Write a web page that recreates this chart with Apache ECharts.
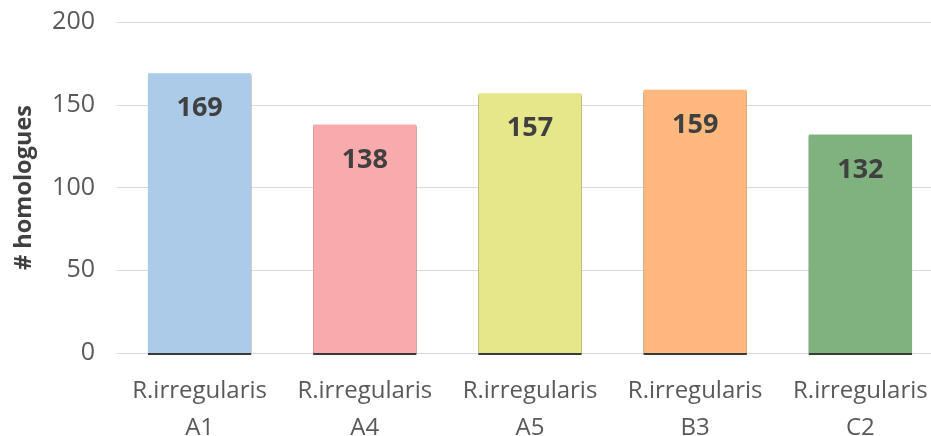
<!DOCTYPE html>
<html>
<head>
<meta charset="utf-8">
<style>
  html, body { margin: 0; padding: 0; background: #fff; }
  #chart { width: 931px; height: 436px; }
</style>
<script src="https://cdn.jsdelivr.net/npm/echarts@6/dist/echarts.min.js"></script>
</head>
<body>
<div id="chart"></div>
<script>
// Number of homologues per R. irregularis isolate
const categories = ['R.irregularis\nA1', 'R.irregularis\nA4', 'R.irregularis\nA5', 'R.irregularis\nB3', 'R.irregularis\nC2'];
const homologues = [169, 138, 157, 159, 132];
const barColors = ['#ABCBE8', '#F8AAAD', '#E6E68B', '#FFB97F', '#80B27F'];
const yTicks = { min: 0, max: 200, interval: 50 };

const font = '"Open Sans", sans-serif';
const chart = echarts.init(document.getElementById('chart'), null, { renderer: 'canvas' });

chart.setOption({
  animation: false,
  grid: {
    left: 117, top: 22, width: 826, height: 331,
    containLabel: false, outerBoundsMode: 'none'
  },
  xAxis: {
    type: 'category',
    data: categories,
    axisLine: { lineStyle: { color: '#D9D9D9', width: 1 } },
    axisTick: { show: false },
    axisLabel: {
      color: '#595959', fontFamily: font, fontSize: 24,
      lineHeight: 37, margin: 20, interval: 0
    }
  },
  yAxis: {
    type: 'value',
    min: yTicks.min, max: yTicks.max, interval: yTicks.interval,
    name: '# homologues',
    nameLocation: 'middle',
    nameGap: 81,
    nameRotate: 90,
    nameTextStyle: { color: '#404040', fontFamily: font, fontSize: 23.5, fontWeight: 'bold' },
    axisLine: { show: false },
    axisTick: { show: false },
    splitLine: { lineStyle: { color: '#D9D9D9', width: 1 } },
    axisLabel: { color: '#595959', fontFamily: font, fontSize: 25, margin: 22 }
  },
  series: [{
    type: 'bar',
    barWidth: '62.5%',
    data: homologues.map((v, i) => ({
      value: v,
      itemStyle: {
        color: barColors[i],
        shadowColor: '#3A3A3A',
        shadowBlur: 0,
        shadowOffsetY: 2
      }
    })),
    label: {
      show: true,
      position: 'insideTop',
      distance: 22,
      color: '#404040',
      fontFamily: font,
      fontSize: 27,
      fontWeight: 'bold'
    }
  }]
});
</script>
</body>
</html>
